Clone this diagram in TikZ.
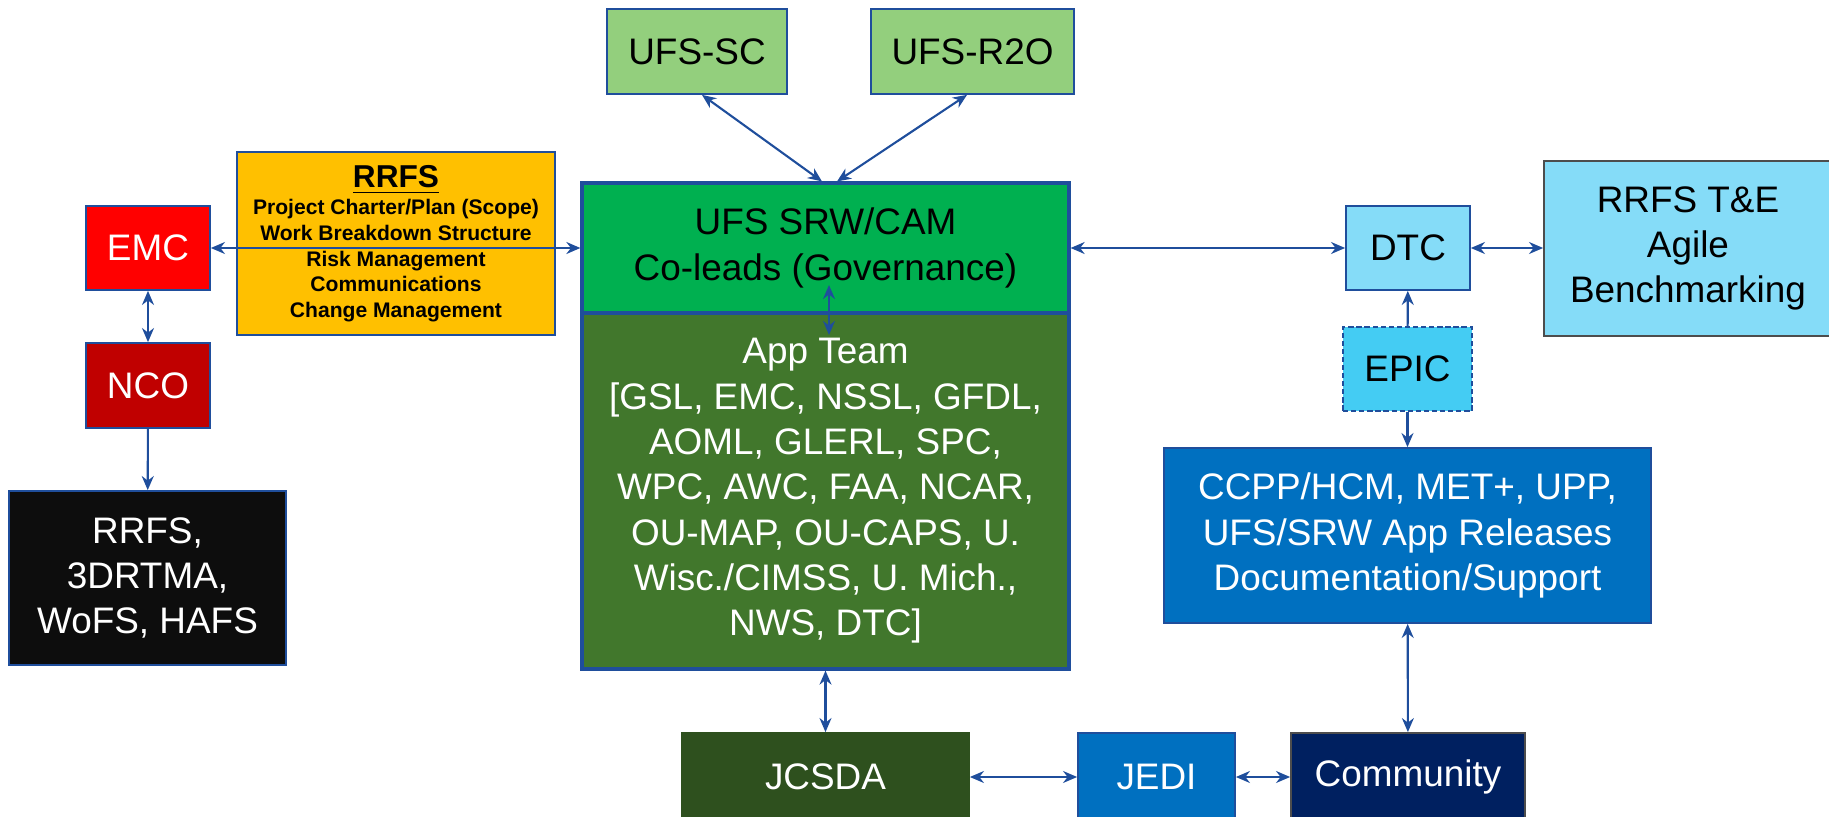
\documentclass[tikz,border=0pt]{standalone}
\usepackage{fontspec}
\setmainfont{Liberation Sans}
\usetikzlibrary{shapes,arrows}
\usetikzlibrary{arrows.meta}
\definecolor{rrblue}{HTML}{1F4E9C}
\definecolor{ufsgreen}{HTML}{93CF7D}
\definecolor{govgreen}{HTML}{00B050}
\definecolor{appgreen}{HTML}{41772C}
\definecolor{jcsdagreen}{HTML}{2E501E}
\definecolor{emcred}{HTML}{FF0000}
\definecolor{ncored}{HTML}{C00000}
\definecolor{opsblack}{HTML}{0D0D0D}
\definecolor{rrfsyellow}{HTML}{FFC000}
\definecolor{dtcblue}{HTML}{85DCF8}
\definecolor{epicblue}{HTML}{44CCF3}
\definecolor{relblue}{HTML}{0070C0}
\definecolor{comblue}{HTML}{002060}
\definecolor{edgegray}{HTML}{4D4D4D}
\tikzstyle{block} = [rectangle, draw=rrblue, line width=0.5pt, text centered,
    align=center, inner sep=0pt, font=\fontsize{10.5}{12.9}\selectfont]
\tikzstyle{line} = [draw=rrblue, line width=0.6pt, -{Stealth[length=4pt,width=3.4pt]}]
\tikzstyle{dline} = [draw=rrblue, line width=0.6pt,
    {Stealth[length=4pt,width=3.4pt]}-{Stealth[length=4pt,width=3.4pt]}]

\begin{document}
\begin{tikzpicture}
      \useasboundingbox (0,0) rectangle (18.29,-8.17);
      \node [block, fill=ufsgreen, minimum width=1.8cm, minimum height=0.85cm] (a) at (6.97, -0.515) {UFS-SC};
      \node [block, fill=ufsgreen, minimum width=2.03cm, minimum height=0.85cm] (b) at (9.725, -0.515) {UFS-R2O};
      \node [block, fill=rrfsyellow, minimum width=3.18cm, minimum height=1.83cm,
        font=\bfseries\fontsize{6}{7.3}\selectfont] (c) at (3.96, -2.435)
        {{\fontsize{9}{10}\selectfont\underline{RRFS}}\\[0.6pt]
         Project Charter/Plan (Scope)\\ Work Breakdown Structure\\
         Risk Management\\ Communications\\ Change Management};
      \node [block, fill=emcred, text=white, minimum width=1.24cm, minimum height=0.84cm] (d) at (1.48, -2.48) {EMC};
      \node [block, fill=ncored, text=white, minimum width=1.24cm, minimum height=0.85cm] (e) at (1.48, -3.855) {NCO};
      \node [block, fill=opsblack, text=white, minimum width=2.77cm, minimum height=1.74cm] (f) at (1.475, -5.78)
        {RRFS,\\ 3DRTMA,\\ WoFS, HAFS};
      \node [block, fill=appgreen, text=white, line width=0.9pt, minimum width=4.87cm, minimum height=3.56cm] (h) at (8.255, -4.91)
        {App Team\\ {[}GSL, EMC, NSSL, GFDL,\\ AOML, GLERL, SPC,\\ WPC, AWC, FAA, NCAR,\\
         OU-MAP, OU-CAPS, U.\\ Wisc./CIMSS, U. Mich.,\\ NWS, DTC{]}};
      \node [block, fill=govgreen, line width=0.9pt, minimum width=4.87cm, minimum height=1.30cm] (g) at (8.255, -2.48)
        {UFS SRW/CAM\\ Co-leads (Governance)};
      \node [block, fill=dtcblue, minimum width=1.24cm, minimum height=0.84cm] (i) at (14.08, -2.48) {DTC};
      \node [block, fill=dtcblue, draw=edgegray, minimum width=2.88cm, minimum height=1.75cm] (j) at (16.88, -2.485)
        {RRFS T\&E\\ Agile\\ Benchmarking};
      \node [block, fill=epicblue, dashed, dash pattern=on 1.5pt off 0.8pt, minimum width=1.29cm, minimum height=0.84cm] (k) at (14.075, -3.69) {EPIC};
      \node [block, fill=relblue, text=white, minimum width=4.87cm, minimum height=1.75cm] (l) at (14.075, -5.355)
        {CCPP/HCM, MET+, UPP,\\ UFS/SRW App Releases\\ Documentation/Support};
      \node [block, fill=jcsdagreen, draw=jcsdagreen, text=white, minimum width=2.87cm, minimum height=0.88cm] (m) at (8.255, -7.77) {JCSDA};
      \node [block, fill=relblue, text=white, minimum width=1.57cm, minimum height=0.88cm] (n) at (11.565, -7.77) {JEDI};
      \node [block, fill=comblue, draw=edgegray, text=white, minimum width=2.34cm, minimum height=0.88cm] (o) at (14.08, -7.77) {Community};
      \coordinate (g1) at (8.29, -2.85);
      \coordinate (h1) at (8.29, -3.35);
      \path [dline] ([xshift=0.05cm]a.south) -- ([xshift=-0.035cm]g.north);
      \path [dline] ([xshift=-0.055cm]b.south) -- ([xshift=0.115cm]g.north);
      \path [dline] (d) -- (g.west |- d);
      \path [dline] (d) -- (e);
      \path [line] (e) -- (f);
      \path [dline] (g1) -- (h1);
      \path [dline] (g.east |- i) -- (i);
      \path [dline] (i) -- (j.west |- i);
      \path [line] (k) -- (i);
      \path [line] (k) -- (l);
      \path [dline] (l) -- (o);
      \path [dline] (h) -- (m);
      \path [dline] (m) -- (n);
      \path [dline] (n) -- (o);
  \end{tikzpicture}
\end{document}
